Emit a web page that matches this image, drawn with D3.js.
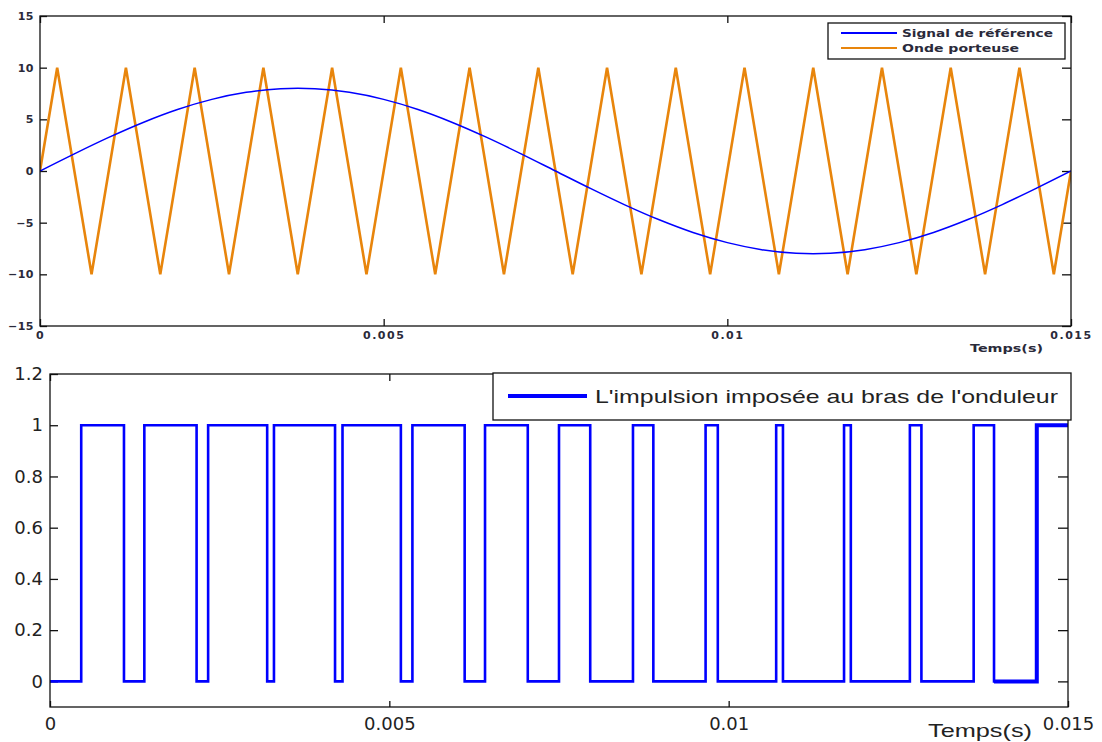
<!DOCTYPE html>
<html>
<head>
<meta charset="utf-8">
<script src="https://cdn.jsdelivr.net/npm/d3@7"></script>
<style>
  html, body { margin: 0; padding: 0; background: #fff; }
  svg { display: block; }
  .frame { fill: none; stroke: #111; stroke-width: 1.3; }
  .tick line { stroke: #111; stroke-width: 1.3; }
  .top-ax text { font-family: 'DejaVu Sans', sans-serif; font-weight: bold; font-size: 11px; fill: #2a2a3a; letter-spacing: 1.5px; }
  .bot-ax text { font-family: 'DejaVu Sans', sans-serif; font-size: 18px; fill: #222; }
</style>
</head>
<body>
<svg id="svg" width="1102" height="742"></svg>
<script>
const svg = d3.select('#svg');

// Reference sine (read every 0.5 ms)
const refTimes = [0, 0.0005, 0.001, 0.0015, 0.002, 0.0025, 0.003, 0.0035, 0.004, 0.0045,
  0.005, 0.0055, 0.006, 0.0065, 0.007, 0.0075, 0.008, 0.0085, 0.009, 0.0095,
  0.01, 0.0105, 0.011, 0.0115, 0.012, 0.0125, 0.013, 0.0135, 0.014, 0.0145, 0.015];
const refValues = [0, 1.66, 3.25, 4.7, 5.95, 6.93, 7.61, 7.96, 7.96, 7.61,
  6.93, 5.95, 4.7, 3.25, 1.66, 0, -1.66, -3.25, -4.7, -5.95,
  -6.93, -7.61, -7.96, -7.96, -7.61, -6.93, -5.95, -4.7, -3.25, -1.66, 0];

// Carrier triangle vertices
const carrierTimes = [0, 0.00025, 0.00075, 0.00125, 0.00175, 0.00225, 0.00275, 0.00325, 0.00375,
  0.00425, 0.00475, 0.00525, 0.00575, 0.00625, 0.00675, 0.00725, 0.00775, 0.00825, 0.00875,
  0.00925, 0.00975, 0.01025, 0.01075, 0.01125, 0.01175, 0.01225, 0.01275, 0.01325, 0.01375,
  0.01425, 0.01475, 0.015];
const carrierValues = [0, 10, -10, 10, -10, 10, -10, 10, -10, 10, -10, 10, -10, 10, -10, 10,
  -10, 10, -10, 10, -10, 10, -10, 10, -10, 10, -10, 10, -10, 10, -10, 0];

// Pulse edges (s)
const riseTimes = [0.00046, 0.00139, 0.00233, 0.0033, 0.00431, 0.00534, 0.00641, 0.0075,
  0.00859, 0.00966, 0.0107, 0.0117, 0.01267, 0.01361, 0.01454];
const fallTimes = [0.00109, 0.00216, 0.0032, 0.0042, 0.00517, 0.00611, 0.00704, 0.00796,
  0.00889, 0.00984, 0.0108, 0.0118, 0.01284, 0.01391];

const xTicks = [0, 0.005, 0.01, 0.015];
const xTickLabels = ['0', '0.005', '0.01', '0.015'];
const topYTicks = [-15, -10, -5, 0, 5, 10, 15];
const botYTicks = [0, 0.2, 0.4, 0.6, 0.8, 1, 1.2];
const botYTickLabels = ['0', '0.2', '0.4', '0.6', '0.8', '1', '1.2'];

const legendTop = ['Signal de référence', 'Onde porteuse'];
const legendBottom = "L'impulsion imposée au bras de l'onduleur";
const xLabel = 'Temps(s)';

const BLUE = '#0000ff';
const ORANGE = '#e8850c';

// ---------- top panel ----------
const T = { l: 40, r: 1071, t: 16, b: 326 };
const x1 = d3.scaleLinear().domain([0, 0.015]).range([T.l, T.r]);
const y1 = d3.scaleLinear().domain([-15, 15]).range([T.b, T.t]);

svg.append('clipPath').attr('id', 'clipTop')
  .append('rect').attr('x', T.l).attr('y', T.t).attr('width', T.r - T.l).attr('height', T.b - T.t);

const gTop = svg.append('g');
const fmtX = (d) => xTickLabels[xTicks.indexOf(d)];

gTop.append('g').attr('class', 'top-ax').attr('transform', `translate(0,${T.b})`)
  .call(d3.axisBottom(x1).tickValues(xTicks).tickFormat(fmtX).tickSize(-7).tickSizeOuter(0).tickPadding(5))
  .call((g) => g.select('.domain').remove());
gTop.append('g').attr('class', 'top-ax').attr('transform', `translate(0,${T.t})`)
  .call(d3.axisTop(x1).tickValues(xTicks).tickFormat('').tickSize(-7).tickSizeOuter(0))
  .call((g) => g.select('.domain').remove());
gTop.append('g').attr('class', 'top-ax').attr('transform', `translate(${T.l},0)`)
  .call(d3.axisLeft(y1).tickValues(topYTicks).tickSize(-7).tickSizeOuter(0).tickPadding(6))
  .call((g) => g.select('.domain').remove())
  .call((g) => g.selectAll('text').style('letter-spacing', '0.5px'));
gTop.append('g').attr('class', 'top-ax').attr('transform', `translate(${T.r},0)`)
  .call(d3.axisRight(y1).tickValues(topYTicks).tickFormat('').tickSize(-9).tickSizeOuter(0))
  .call((g) => g.select('.domain').remove());

const refLine = d3.line()
  .x((d, i) => x1(refTimes[i]))
  .y((d) => y1(d))
  .curve(d3.curveCatmullRom);
const carrierLine = d3.line()
  .x((d, i) => x1(carrierTimes[i]))
  .y((d) => y1(d));

gTop.append('path').attr('clip-path', 'url(#clipTop)')
  .attr('d', carrierLine(carrierValues))
  .attr('fill', 'none').attr('stroke', ORANGE).attr('stroke-width', 2.6).attr('stroke-linejoin', 'miter');
gTop.append('path').attr('clip-path', 'url(#clipTop)')
  .attr('d', refLine(refValues))
  .attr('fill', 'none').attr('stroke', BLUE).attr('stroke-width', 1.5);

gTop.append('rect').attr('class', 'frame')
  .attr('x', T.l).attr('y', T.t).attr('width', T.r - T.l).attr('height', T.b - T.t);

// top legend
const lg1 = gTop.append('g');
lg1.append('rect').attr('x', 828).attr('y', 23).attr('width', 237).attr('height', 36)
  .attr('fill', '#fff').attr('stroke', '#111').attr('stroke-width', 1.3);
const lgWidths = [151, 117];
[BLUE, ORANGE].forEach((c, i) => {
  const yy = 33 + i * 15;
  lg1.append('line').attr('x1', 841).attr('x2', 897).attr('y1', yy).attr('y2', yy)
    .attr('stroke', c).attr('stroke-width', 2.2);
  lg1.append('text').attr('x', 902).attr('y', yy + 4)
    .attr('textLength', lgWidths[i]).attr('lengthAdjust', 'spacingAndGlyphs')
    .style('font-family', "'DejaVu Sans', sans-serif").style('font-weight', 'bold')
    .style('font-size', '11px').attr('fill', '#2a2a3a')
    .text(legendTop[i]);
});

gTop.append('text').attr('x', 970).attr('y', 352)
  .attr('textLength', 73).attr('lengthAdjust', 'spacingAndGlyphs')
  .style('font-family', "'DejaVu Sans', sans-serif").style('font-weight', 'bold')
  .style('font-size', '11px').attr('fill', '#2a2a3a')
  .text(xLabel);

// ---------- bottom panel ----------
const B = { l: 50, r: 1068, t: 374, b: 707 };
const x2 = d3.scaleLinear().domain([0, 0.015]).range([B.l, B.r]);
const y2 = d3.scaleLinear().domain([-0.1, 1.2]).range([B.b, B.t]);

svg.append('clipPath').attr('id', 'clipBot')
  .append('rect').attr('x', B.l).attr('y', B.t - 3).attr('width', B.r - B.l).attr('height', B.b - B.t + 3);

const gBot = svg.append('g');
const fmtY = (d) => botYTickLabels[botYTicks.indexOf(d)];

gBot.append('g').attr('class', 'bot-ax').attr('transform', `translate(0,${B.b})`)
  .call(d3.axisBottom(x2).tickValues(xTicks).tickFormat(fmtX).tickSize(-6).tickSizeOuter(0).tickPadding(10))
  .call((g) => g.select('.domain').remove());
gBot.append('g').attr('class', 'bot-ax').attr('transform', `translate(0,${B.t})`)
  .call(d3.axisTop(x2).tickValues(xTicks).tickFormat('').tickSize(-7).tickSizeOuter(0))
  .call((g) => g.select('.domain').remove());
gBot.append('g').attr('class', 'bot-ax').attr('transform', `translate(${B.l},0)`)
  .call(d3.axisLeft(y2).tickValues(botYTicks).tickFormat(fmtY).tickSize(-8).tickSizeOuter(0).tickPadding(7))
  .call((g) => g.select('.domain').remove());
gBot.append('g').attr('class', 'bot-ax').attr('transform', `translate(${B.r},0)`)
  .call(d3.axisRight(y2).tickValues(botYTicks).tickFormat('').tickSize(-10).tickSizeOuter(0))
  .call((g) => g.select('.domain').remove());

// pulse as step points built from edge times
const pulse = [[0, 0]];
riseTimes.forEach((r, i) => {
  pulse.push([r, 1]);
  if (i < fallTimes.length) pulse.push([fallTimes[i], 0]);
});
pulse.push([0.015, 1]);

const stepLine = d3.line()
  .x((d) => x2(d[0]))
  .y((d) => y2(d[1]))
  .curve(d3.curveStepAfter);

gBot.append('path').attr('clip-path', 'url(#clipBot)')
  .attr('d', stepLine(pulse))
  .attr('fill', 'none').attr('stroke', BLUE).attr('stroke-width', 2.6);
// last stretch drawn heavier, as in the original
gBot.append('path').attr('clip-path', 'url(#clipBot)')
  .attr('d', stepLine(pulse.slice(pulse.length - 3)))
  .attr('fill', 'none').attr('stroke', BLUE).attr('stroke-width', 4);

gBot.append('rect').attr('class', 'frame')
  .attr('x', B.l).attr('y', B.t).attr('width', B.r - B.l).attr('height', B.b - B.t);

// bottom legend
const lg2 = gBot.append('g');
lg2.append('rect').attr('x', 493).attr('y', 373).attr('width', 578).attr('height', 47)
  .attr('fill', '#fff').attr('stroke', '#111').attr('stroke-width', 1.3);
lg2.append('line').attr('x1', 508).attr('x2', 587).attr('y1', 396).attr('y2', 396)
  .attr('stroke', BLUE).attr('stroke-width', 4);
lg2.append('text').attr('x', 595).attr('y', 403)
  .attr('textLength', 463).attr('lengthAdjust', 'spacingAndGlyphs')
  .style('font-family', "'Liberation Sans', Arial, sans-serif").style('font-size', '19px')
  .attr('fill', '#222')
  .text(legendBottom);

gBot.append('text').attr('x', 928).attr('y', 737)
  .attr('textLength', 104).attr('lengthAdjust', 'spacingAndGlyphs')
  .style('font-family', "'Liberation Sans', Arial, sans-serif").style('font-size', '19px')
  .attr('fill', '#222')
  .text(xLabel);
</script>
</body>
</html>
